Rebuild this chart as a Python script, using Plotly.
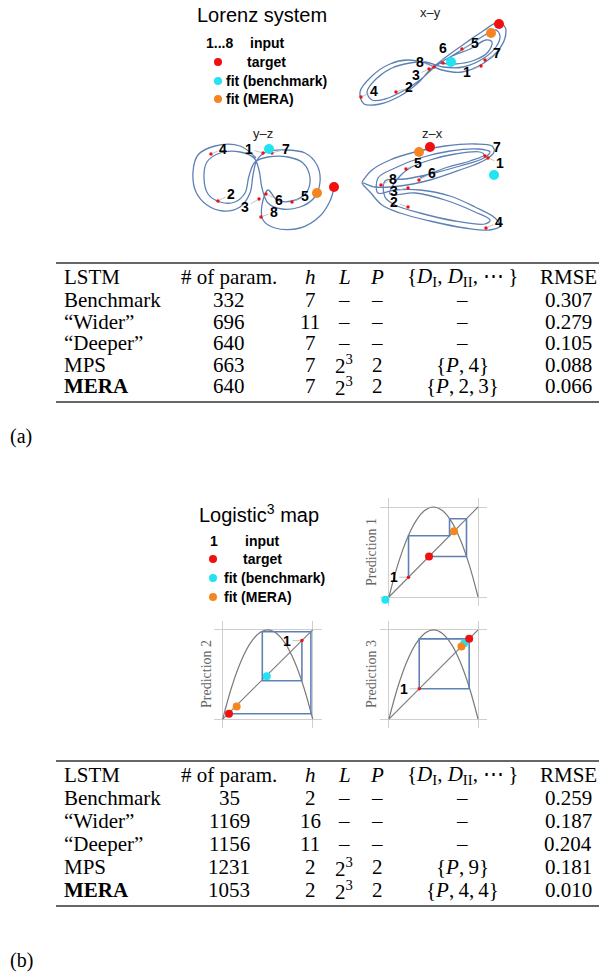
import plotly.graph_objects as go

W, H = 600, 977
SANS = "Liberation Sans"
SERIF = "Liberation Serif"
BLUE = "#5E81B5"
RED = "#f01010"
CYAN = "#22e3f2"
ORANGE = "#f5861f"

def fx(p):
    return p / W

def fy(p):
    return 1 - p / H

# ---------------- Data: Lorenz projections (local plot units) ----------------
xy_path_x = [82, 100, 117, 133, 147, 155, 155, 147, 134, 112, 92, 75, 58, 40, 22, 10, 14, 30, 50, 68, 82,
             100, 118, 135, 146, 150, 146, 134, 113, 93, 75, 60, 42, 26, 17, 22, 35, 53, 70, 86, 102,
             120, 136, 142, 138, 125, 105, 90]
xy_path_y = [42, 56, 68, 79, 87, 83, 72, 58, 47, 38, 40, 47, 50, 46, 34, 18, 6, 6, 14, 27, 42,
             53, 64, 75, 80, 74, 63, 52, 43, 43, 48, 47, 42, 31, 18, 10, 11, 19, 30, 44, 54,
             61, 70, 68, 58, 50, 46, 47]
xy_input_x = [131, 46, 79, 11, 112, 93, 135, 84]
xy_input_y = [44, 18, 41, 13, 61, 47, 50, 43]
xy_target = (149, 86)
xy_fit_bench = (101, 48)
xy_fit_mera = (141, 77)

yz_path_x = [76, 60, 35, 18, 13, 16, 27, 43, 60, 70, 73, 77, 86, 105, 125, 137, 140, 134, 120, 102, 88, 82, 79,
             74, 60, 40, 27, 24, 28, 40, 55, 65, 69, 75, 88, 108, 123, 130, 126, 112, 97, 88,
             82, 83, 95, 120, 140, 150, 154]
yz_path_y = [77, 89, 89, 80, 63, 43, 30, 24, 28, 42, 60, 75, 83, 85, 82, 70, 53, 37, 28, 26, 32, 47, 65,
             77, 83, 82, 73, 57, 41, 33, 33, 42, 59, 73, 78, 78, 72, 57, 42, 34, 35, 45,
             30, 15, 7, 7, 19, 34, 47]
yz_input_x = [83, 38, 79, 31, 112, 86, 92, 81]
yz_input_y = [82, 34, 36, 81, 33, 41, 82, 18]
yz_target = (154, 48)
yz_fit_bench = (89, 86)
yz_fit_mera = (137, 42)

zx_path_x = [12, 22, 40, 65, 95, 125, 142, 144, 135, 110, 80, 50, 25, 12,
             20, 32, 50, 80, 115, 140, 150, 145, 125, 100, 70, 45, 28,
             28, 45, 70, 100, 128, 140, 134, 110, 80, 55, 35,
             35, 45, 70, 105, 135, 140, 125, 95, 65, 40,
             50, 60, 80, 105, 130, 134, 120, 95, 70]
zx_path_y = [53, 65, 75, 83, 89, 91, 89, 83, 75, 65, 55, 49, 48, 52,
             43, 30, 22, 14, 7, 5, 9, 17, 28, 39, 45, 45, 42,
             57, 67, 77, 84, 86, 83, 77, 69, 61, 56, 54,
             38, 30, 22, 14, 11, 15, 23, 35, 42, 41,
             59, 67, 75, 81, 83, 80, 74, 67, 57]
zx_input_x = [138, 58, 58, 136, 56, 69, 135, 31]
zx_input_y = [77, 28, 47, 7, 66, 55, 79, 50]
zx_target = (80, 88)
zx_fit_bench = (144, 60)
zx_fit_mera = (69, 83)

lorenz_labels = ["1", "2", "3", "4", "5", "6", "7", "8"]

# ---------------- Data: Logistic^3 map ----------------
parab_x = [0, 0.1, 0.2, 0.3, 0.4, 0.5, 0.6, 0.7, 0.8, 0.9, 1.0]
parab_y = [0, 0.36, 0.64, 0.84, 0.96, 1.0, 0.96, 0.84, 0.64, 0.36, 0]
diag_x = [0, 1]
diag_y = [0, 1]

p1_web_x = [0.22, 0.22, 0.68, 0.68, 0.87, 0.87, 0.45]
p1_web_y = [0.22, 0.68, 0.68, 0.87, 0.87, 0.45, 0.45]
p1_input = (0.22, 0.22)
p1_target = (0.45, 0.45)
p1_fit_bench = (-0.04, -0.03)
p1_fit_mera = (0.73, 0.73)

p2_web_x = [0.88, 0.88, 0.44, 0.44, 0.98, 0.98, 0.07]
p2_web_y = [0.88, 0.43, 0.43, 0.98, 0.98, 0.06, 0.06]
p2_input = (0.88, 0.88)
p2_target = (0.07, 0.06)
p2_fit_bench = (0.49, 0.48)
p2_fit_mera = (0.155, 0.14)

p3_web_x = [0.34, 0.34, 0.9, 0.9, 0.34, 0.34, 0.9]
p3_web_y = [0.34, 0.9, 0.9, 0.34, 0.34, 0.9, 0.9]
p3_input = (0.34, 0.34)
p3_target = (0.9, 0.9)
p3_fit_bench = (0.845, 0.85)
p3_fit_mera = (0.813, 0.813)

# ---------------- Data: tables ----------------
header = ["LSTM", "# of param.", "<i>h</i>", "<i>L</i>", "<i>P</i>",
          "{<i>D</i><sub>I</sub>, <i>D</i><sub>II</sub>, \u22ef\u2009}", "RMSE"]
models = ["Benchmark", "\u201cWider\u201d", "\u201cDeeper\u201d", "MPS", "<b>MERA</b>"]
L_vals = ["\u2013", "\u2013", "\u2013", "2<sup>3</sup>", "2<sup>3</sup>"]
P_vals = ["\u2013", "\u2013", "\u2013", "2", "2"]

params_a = [332, 696, 640, 663, 640]
h_a = [7, 11, 7, 7, 7]
D_a = ["\u2013", "\u2013", "\u2013", "{<i>P</i>,\u20094}", "{<i>P</i>,\u20092,\u20093}"]
rmse_a = [0.307, 0.279, 0.105, 0.088, 0.066]

params_b = [35, 1169, 1156, 1231, 1053]
h_b = [2, 16, 11, 2, 2]
D_b = ["\u2013", "\u2013", "\u2013", "{<i>P</i>,\u20099}", "{<i>P</i>,\u20094,\u20094}"]
rmse_b = [0.259, 0.187, 0.204, 0.181, 0.010]

# ---------------- Figure ----------------
fig = go.Figure()
layout_axes = {}
annotations = []
shapes = []


def add_axes(n, x_px, y_px, xr, yr, grid=False):
    xa = dict(domain=[fx(x_px[0]), fx(x_px[1])], range=xr, anchor=f"y{n}" if n > 1 else "y",
              showticklabels=False, ticks="", zeroline=False, showline=False, fixedrange=True)
    ya = dict(domain=[fy(y_px[1]), fy(y_px[0])], range=yr, anchor=f"x{n}" if n > 1 else "x",
              showticklabels=False, ticks="", zeroline=False, showline=False, fixedrange=True)
    if grid:
        for a in (xa, ya):
            a.update(showgrid=True, tickvals=[0, 1], gridcolor="#cfcfcf", gridwidth=1)
    else:
        xa.update(visible=False)
        ya.update(visible=False)
    layout_axes["xaxis" if n == 1 else f"xaxis{n}"] = xa
    layout_axes["yaxis" if n == 1 else f"yaxis{n}"] = ya
    return ("x" if n == 1 else f"x{n}", "y" if n == 1 else f"y{n}")


def dot(ax, p, color, size):
    fig.add_trace(go.Scatter(x=[p[0]], y=[p[1]], mode="markers", xaxis=ax[0], yaxis=ax[1],
                             marker=dict(color=color, size=size, line=dict(width=0)),
                             showlegend=False, hoverinfo="skip", cliponaxis=False))


def lorenz(n, x_px, y_px, xr, yr, px_, py_, ix, iy, offsets, target, fb, fm, title, title_xy):
    ax = add_axes(n, x_px, y_px, xr, yr)
    fig.add_trace(go.Scatter(x=px_, y=py_, mode="lines", xaxis=ax[0], yaxis=ax[1],
                             line=dict(color=BLUE, width=1.3, shape="spline", smoothing=1.0),
                             showlegend=False, hoverinfo="skip", cliponaxis=False))
    fig.add_trace(go.Scatter(x=ix, y=iy, mode="markers", xaxis=ax[0], yaxis=ax[1],
                             marker=dict(color=RED, size=3.5), showlegend=False,
                             hoverinfo="skip", cliponaxis=False))
    dot(ax, fb, CYAN, 10)
    dot(ax, fm, ORANGE, 10)
    dot(ax, target, RED, 10)
    for x, y, t, (ox, oy) in zip(ix, iy, lorenz_labels, offsets):
        annotations.append(dict(x=x, y=y, xref=ax[0], yref=ax[1], text=f"<b>{t}</b>",
                                showarrow=True, arrowhead=0, arrowwidth=0.8, arrowcolor="#b5b5b5",
                                ax=ox, ay=oy, standoff=1.5,
                                font=dict(family=SANS, size=14, color="black")))
    annotations.append(dict(x=fx(title_xy[0]), y=fy(title_xy[1]), xref="paper", yref="paper",
                            text=title, showarrow=False, xanchor="center", yanchor="middle",
                            font=dict(family=SANS, size=13, color="#222")))


lorenz(1, (350, 510), (0, 110), [0, 160], [0, 110], xy_path_x, xy_path_y, xy_input_x, xy_input_y,
       [(-14, 6), (13, -5), (-13, 6), (13, -6), (13, -6), (0, -15), (12, -7), (-14, -5)],
       xy_target, xy_fit_bench, xy_fit_mera, "x\u2013y", (430, 12))
lorenz(2, (180, 360), (120, 235), [0, 180], [0, 115], yz_path_x, yz_path_y, yz_input_x, yz_input_y,
       [(-14, -4), (13, -7), (-14, 8), (12, -5), (13, -6), (13, 6), (14, -4), (13, -5)],
       yz_target, yz_fit_bench, yz_fit_mera, "y\u2013z", (263, 134))
lorenz(3, (350, 520), (120, 235), [0, 170], [0, 115], zx_path_x, zx_path_y, zx_input_x, zx_input_y,
       [(12, 5), (-14, -5), (-14, 3), (13, -6), (12, -6), (13, -7), (12, -9), (12, -6)],
       zx_target, zx_fit_bench, zx_fit_mera, "z\u2013x", (432, 134))


def logistic(n, x_px, y_px, wx, wy, inp, target, fb, fm, label, label_xy):
    ax = add_axes(n, x_px, y_px, [-0.1, 1.1], [-0.1, 1.1], grid=True)
    fig.add_trace(go.Scatter(x=parab_x, y=parab_y, mode="lines", xaxis=ax[0], yaxis=ax[1],
                             line=dict(color="#7a7a7a", width=1.2, shape="spline", smoothing=1.0),
                             showlegend=False, hoverinfo="skip"))
    fig.add_trace(go.Scatter(x=diag_x, y=diag_y, mode="lines", xaxis=ax[0], yaxis=ax[1],
                             line=dict(color="#7a7a7a", width=1.1), showlegend=False, hoverinfo="skip"))
    fig.add_trace(go.Scatter(x=wx, y=wy, mode="lines", xaxis=ax[0], yaxis=ax[1],
                             line=dict(color=BLUE, width=1.6), showlegend=False, hoverinfo="skip"))
    fig.add_trace(go.Scatter(x=[inp[0]], y=[inp[1]], mode="markers", xaxis=ax[0], yaxis=ax[1],
                             marker=dict(color=RED, size=3.5), showlegend=False, hoverinfo="skip"))
    dot(ax, fb, CYAN, 8)
    dot(ax, fm, ORANGE, 8)
    dot(ax, target, RED, 8)
    annotations.append(dict(x=inp[0], y=inp[1], xref=ax[0], yref=ax[1], text="<b>1</b>",
                            showarrow=True, arrowhead=0, arrowwidth=0.8, arrowcolor="#b5b5b5",
                            ax=-15, ay=0, standoff=1.5, font=dict(family=SANS, size=14, color="black")))
    annotations.append(dict(x=fx(label_xy[0]), y=fy(label_xy[1]), xref="paper", yref="paper",
                            text=label, textangle=-90, showarrow=False, xanchor="center",
                            yanchor="middle", font=dict(family=SERIF, size=14, color="#666")))


logistic(4, (380, 487), (498, 606), p1_web_x, p1_web_y, p1_input, p1_target, p1_fit_bench,
         p1_fit_mera, "Prediction 1", (371, 552))
logistic(5, (213.7, 321.7), (621, 728), p2_web_x, p2_web_y, p2_input, p2_target, p2_fit_bench,
         p2_fit_mera, "Prediction 2", (206, 674))
logistic(6, (380, 487), (621, 728), p3_web_x, p3_web_y, p3_input, p3_target, p3_fit_bench,
         p3_fit_mera, "Prediction 3", (371, 674))


def text(x, y, t, size, family=SANS, anchor="left", color="black"):
    annotations.append(dict(x=fx(x), y=fy(y), xref="paper", yref="paper", text=t, showarrow=False,
                            xanchor=anchor, yanchor="middle",
                            font=dict(family=family, size=size, color=color)))


def circle(cx, cy, r, color):
    shapes.append(dict(type="circle", xref="paper", yref="paper", x0=fx(cx - r), x1=fx(cx + r),
                       y0=fy(cy + r), y1=fy(cy - r), fillcolor=color, line=dict(width=0)))


# Titles and legends
text(262, 15, "Lorenz system", 20, anchor="center")
text(204, 43, "<b>1...8</b>", 14)
text(248, 43, "<b>input</b>", 14)
circle(218, 62, 4, RED)
text(245, 62, "<b>target</b>", 14)
circle(218, 81, 4, CYAN)
text(224, 81, "<b>fit (benchmark)</b>", 14)
circle(218, 99, 4, ORANGE)
text(224, 99, "<b>fit (MERA)</b>", 14)

text(259, 513, "Logistic<sup>3</sup> map", 20, anchor="center")
text(208, 541, "<b>1</b>", 14)
text(243, 541, "<b>input</b>", 14)
circle(213, 559, 4, RED)
text(241, 559, "<b>target</b>", 14)
circle(213, 578, 4, CYAN)
text(222, 578, "<b>fit (benchmark)</b>", 14)
circle(213, 597, 4, ORANGE)
text(222, 597, "<b>fit (MERA)</b>", 14)

# Tables
COLS = [62, 229, 310, 344, 377, 462, 568]
FS = 21


def table(top, header_y, rows_y, bottom, params, hs, Ds, rmses):
    for y in (top, bottom):
        shapes.append(dict(type="line", xref="paper", yref="paper", x0=fx(56), x1=fx(599),
                           y0=fy(y), y1=fy(y), line=dict(color="#333", width=1.4)))
    for i, t in enumerate(header):
        text(COLS[i], header_y, t, FS, SERIF, "left" if i == 0 else "center")
    for j, y in enumerate(rows_y):
        text(COLS[0], y, models[j], FS, SERIF, "left")
        text(COLS[1], y, str(params[j]), FS, SERIF, "center")
        text(COLS[2], y, str(hs[j]), FS, SERIF, "center")
        text(COLS[3], y, L_vals[j], FS, SERIF, "center")
        text(COLS[4], y, P_vals[j], FS, SERIF, "center")
        text(COLS[5], y, Ds[j], FS, SERIF, "center")
        text(COLS[6], y, f"{rmses[j]:.3f}", FS, SERIF, "center")


table(263, 277, [299.5, 321.5, 343, 364.5, 386], 402, params_a, h_a, D_a, rmse_a)
table(761, 775, [798, 821, 844, 867, 890], 906, params_b, h_b, D_b, rmse_b)

text(8, 436, "(a)", 20, SERIF)
text(8, 960, "(b)", 20, SERIF)

fig.update_layout(width=W, height=H, margin=dict(l=0, r=0, t=0, b=0),
                  paper_bgcolor="white", plot_bgcolor="white", showlegend=False,
                  annotations=annotations, shapes=shapes, **layout_axes)

fig.write_html("out.html", config={"displayModeBar": False},
               post_script="document.body.style.margin='0';")
